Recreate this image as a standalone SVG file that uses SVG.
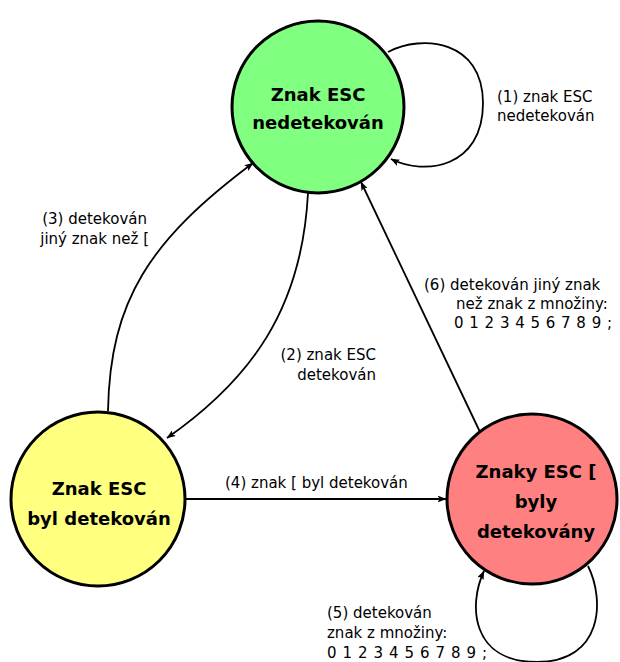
<svg xmlns="http://www.w3.org/2000/svg" width="620" height="662" viewBox="0 0 620 662">
<defs>
<marker id="arr" viewBox="0 0 9 7" refX="8.5" refY="3.5" markerWidth="9" markerHeight="7" markerUnits="userSpaceOnUse" orient="auto">
<path d="M0,0 L9,3.5 L0,7 L2,3.5 z" fill="#000"/>
</marker>
<style>
.node{stroke:#000;stroke-width:3}
.nl{font-family:"DejaVu Sans",Verdana,sans-serif;font-weight:bold;font-size:18px;text-anchor:middle;fill:#000}
.el{font-family:"DejaVu Sans",Verdana,sans-serif;font-size:15px;fill:#000}
.edge{fill:none;stroke:#000;stroke-width:1.8;marker-end:url(#arr)}
</style>
</defs>
<rect width="620" height="662" fill="#fff"/>
<g id="connectors">
<path id="e1" class="edge" d="M388,52 C422,34 483,40 483,103 C483,168 425,176 391,159"/>
<path id="e2" class="edge" d="M308,193 C302,310 250,380 167,438"/>
<path id="e3" class="edge" d="M108,411 C110,300 150,240 253,163"/>
<path id="e4" class="edge" d="M185,499 L446,499"/>
<path id="e5" class="edge" d="M588,566 C605,600 603,662 537,662 C471,662 468,605 484,571"/>
<path id="e6" class="edge" d="M480,432 L361,182"/>
<text class="el" x="497" y="102">(1) znak ESC</text>
<text class="el" x="497" y="121">nedetekován</text>
<text class="el" x="376" y="360" text-anchor="end">(2) znak ESC</text>
<text class="el" x="376" y="380" text-anchor="end">detekován</text>
<text class="el" x="147" y="224" text-anchor="end">(3) detekován</text>
<text class="el" x="149" y="244" text-anchor="end">jiný znak než [</text>
<text class="el" x="225" y="488">(4) znak [ byl detekován</text>
<text class="el" x="327" y="618">(5) detekován</text>
<text class="el" x="327" y="638">znak z množiny:</text>
<text class="el" x="327" y="658" textLength="160" lengthAdjust="spacing">0 1 2 3 4 5 6 7 8 9 ;</text>
<text class="el" x="424" y="290">(6) detekován jiný znak</text>
<text class="el" x="456" y="309">než znak z množiny:</text>
<text class="el" x="454" y="328" textLength="158" lengthAdjust="spacing">0 1 2 3 4 5 6 7 8 9 ;</text>
</g>
<g id="n1">
<circle class="node" cx="318" cy="107" r="86" fill="#80ff80"/>
<text class="nl" x="318" y="101">Znak ESC</text>
<text class="nl" x="318" y="129">nedetekován</text>
</g>
<g id="n2">
<circle class="node" cx="98" cy="499" r="87" fill="#ffff80"/>
<text class="nl" x="99" y="495">Znak ESC</text>
<text class="nl" x="99" y="525">byl detekován</text>
</g>
<g id="n3">
<circle class="node" cx="532" cy="499" r="85" fill="#ff8080"/>
<text class="nl" x="536" y="478">Znaky ESC [</text>
<text class="nl" x="536" y="508">byly</text>
<text class="nl" x="536" y="538">detekovány</text>
</g>
</svg>
